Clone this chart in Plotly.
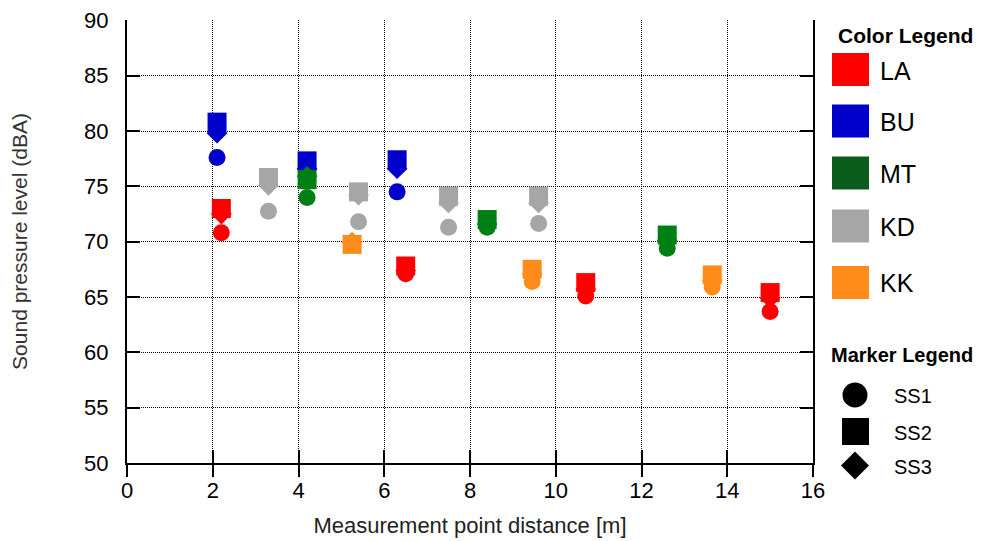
import plotly.graph_objects as go

# ---------------- data ----------------
locations = ["LA", "BU", "MT", "KD", "KK"]
distances = {
    "LA": [2.2, 6.5, 10.7, 15.0],
    "BU": [2.1, 4.2, 6.3],
    "MT": [4.2, 8.4, 12.6],
    "KD": [3.3, 5.4, 7.5, 9.6],
    "KK": [5.25, 9.45, 13.65],
}
ss1 = {
    "LA": [70.8, 67.1, 65.1, 63.7],
    "BU": [77.6, 75.6, 74.5],
    "MT": [74.0, 71.3, 69.4],
    "KD": [72.75, 71.8, 71.3, 71.65],
    "KK": [69.8, 66.4, 65.9],
}
ss2 = {
    "LA": [73.0, 67.8, 66.3, 65.4],
    "BU": [80.8, 77.3, 77.4],
    "MT": [75.6, 72.0, 70.6],
    "KD": [75.8, 74.5, 74.1, 74.1],
    "KK": [69.75, 67.5, 67.0],
}
ss3 = {
    "LA": [72.5, 67.4, 65.7, 64.9],
    "BU": [79.8, 76.6, 76.6],
    "MT": [75.9, 71.6, 70.1],
    "KD": [75.1, 74.2, 73.5, 73.5],
    "KK": [69.95, 67.1, 66.5],
}
marker_colors = {"LA": "#ff0000", "BU": "#0000cc", "MT": "#008014",
                 "KD": "#a6a6a6", "KK": "#ff8c1a"}
legend_colors = {"LA": "#ff0000", "BU": "#0000cc", "MT": "#0b5c1c",
                 "KD": "#a6a6a6", "KK": "#ff8c1a"}
sensor_names = ["SS1", "SS2", "SS3"]
x_ticks = [0, 2, 4, 6, 8, 10, 12, 14, 16]
y_ticks = [50, 55, 60, 65, 70, 75, 80, 85, 90]

FONT = "Liberation Sans, Arial, Helvetica, sans-serif"

# ---------------- figure ----------------
OFF = 8                      # page body margin offset
W, H = 984 - OFF, 541 - OFF
L, R, T, B = 127, 813, 20, 463   # plot area in page pixels

fig = go.Figure()
for loc in locations:
    for vals, sym, size in ((ss1, "circle", 17), (ss3, "diamond", 16), (ss2, "square", 19)):
        fig.add_trace(go.Scatter(
            x=distances[loc], y=vals[loc], mode="markers",
            marker=dict(symbol=sym, size=size, color=marker_colors[loc], line=dict(width=0)),
            showlegend=False, hoverinfo="x+y", name=loc,
        ))
fig.add_trace(go.Scatter(x=[], y=[], xaxis="x2", yaxis="y2", showlegend=False))

grid_dash = "1px,1px"
y_range = [50, 90.03]
fig.update_layout(
    width=W, height=H,
    margin=dict(l=L - OFF, r=W - (R - OFF), t=T - OFF, b=H - (B - OFF), pad=0, autoexpand=False),
    paper_bgcolor="white", plot_bgcolor="white",
    font=dict(family=FONT, size=22, color="black"),
    xaxis=dict(
        range=[0, 16], tickvals=x_ticks, ticks="outside", ticklen=12, tickwidth=2,
        tickcolor="black", showline=True, linewidth=2, linecolor="black",
        showgrid=True, gridcolor="black", gridwidth=1, griddash=grid_dash,
        zeroline=False, tickfont=dict(size=22, color="black"), automargin=False,
        ticklabelstandoff=-5, ticklabeloverflow="allow",
        title=dict(text="Measurement point distance [m]", font=dict(size=22, color="#222"), standoff=15),
    ),
    yaxis=dict(
        range=y_range, tickvals=y_ticks, ticks="inside", ticklen=13, tickwidth=2,
        tickcolor="black", showline=True, linewidth=2, linecolor="black",
        showgrid=True, gridcolor="black", gridwidth=1, griddash=grid_dash,
        zeroline=False, tickfont=dict(size=22, color="black"), ticklabelstandoff=12,
        ticklabeloverflow="allow", automargin=False,
        title=dict(text="Sound pressure level (dBA)", font=dict(size=21, color="#333"), standoff=61),
    ),
    xaxis2=dict(
        overlaying="x", matches="x", anchor="y2", side="bottom", range=[0, 16],
        tickvals=x_ticks, ticks="inside", ticklen=13, tickwidth=2, tickcolor="black",
        showticklabels=False, showgrid=False, showline=False, zeroline=False, automargin=False,
    ),
    yaxis2=dict(
        overlaying="y", matches="y", anchor="x2", side="right", range=y_range,
        tickvals=y_ticks, ticks="inside", ticklen=13, tickwidth=2, tickcolor="black",
        showticklabels=False, showgrid=False, showline=True, linewidth=2,
        linecolor="black", zeroline=False, automargin=False,
    ),
)

# ---------------- custom legends (page pixel layout -> paper coords) ----------------
def px(xp):
    return (xp - L) / (R - L)

def py(yp):
    return (B - yp) / (B - T)

shapes = []
annotations = []
annotations.append(dict(text="<b>Color Legend</b>", x=px(836), y=py(35), xref="paper", yref="paper",
                        xanchor="left", yanchor="middle", showarrow=False,
                        font=dict(size=21, color="black")))
row_centers = [69.6, 121, 173, 226, 282.5]
for loc, cy in zip(locations, row_centers):
    shapes.append(dict(type="rect", xref="paper", yref="paper",
                       x0=px(832), x1=px(869), y0=py(cy - 16.5), y1=py(cy + 16.5),
                       fillcolor=legend_colors[loc], line=dict(width=0)))
    annotations.append(dict(text=loc, x=px(878), y=py(cy + 1), xref="paper", yref="paper",
                            xanchor="left", yanchor="middle", showarrow=False,
                            font=dict(size=25, color="black")))

annotations.append(dict(text="<b>Marker Legend</b>", x=px(829), y=py(355), xref="paper", yref="paper",
                        xanchor="left", yanchor="middle", showarrow=False,
                        font=dict(size=20, color="black")))
mk_rows = [395, 431.5, 465.5]
cx = 855
shapes.append(dict(type="circle", xref="paper", yref="paper",
                   x0=px(cx - 12.5), x1=px(cx + 12.5), y0=py(mk_rows[0] + 12.5), y1=py(mk_rows[0] - 12.5),
                   fillcolor="black", line=dict(width=0)))
shapes.append(dict(type="rect", xref="paper", yref="paper",
                   x0=px(cx - 13), x1=px(cx + 14), y0=py(mk_rows[1] + 13.5), y1=py(mk_rows[1] - 13.5),
                   fillcolor="black", line=dict(width=0)))
d = 14
cy3 = mk_rows[2]
path = "M {} {} L {} {} L {} {} L {} {} Z".format(
    px(cx), py(cy3 - d), px(cx + d), py(cy3), px(cx), py(cy3 + d), px(cx - d), py(cy3))
shapes.append(dict(type="path", xref="paper", yref="paper", path=path,
                   fillcolor="black", line=dict(width=0)))
for name, cy in zip(sensor_names, mk_rows):
    annotations.append(dict(text=name, x=px(892), y=py(cy + 1), xref="paper", yref="paper",
                            xanchor="left", yanchor="middle", showarrow=False,
                            font=dict(size=20, color="black")))

fig.update_layout(shapes=shapes, annotations=annotations)
fig.write_html("out.html")
